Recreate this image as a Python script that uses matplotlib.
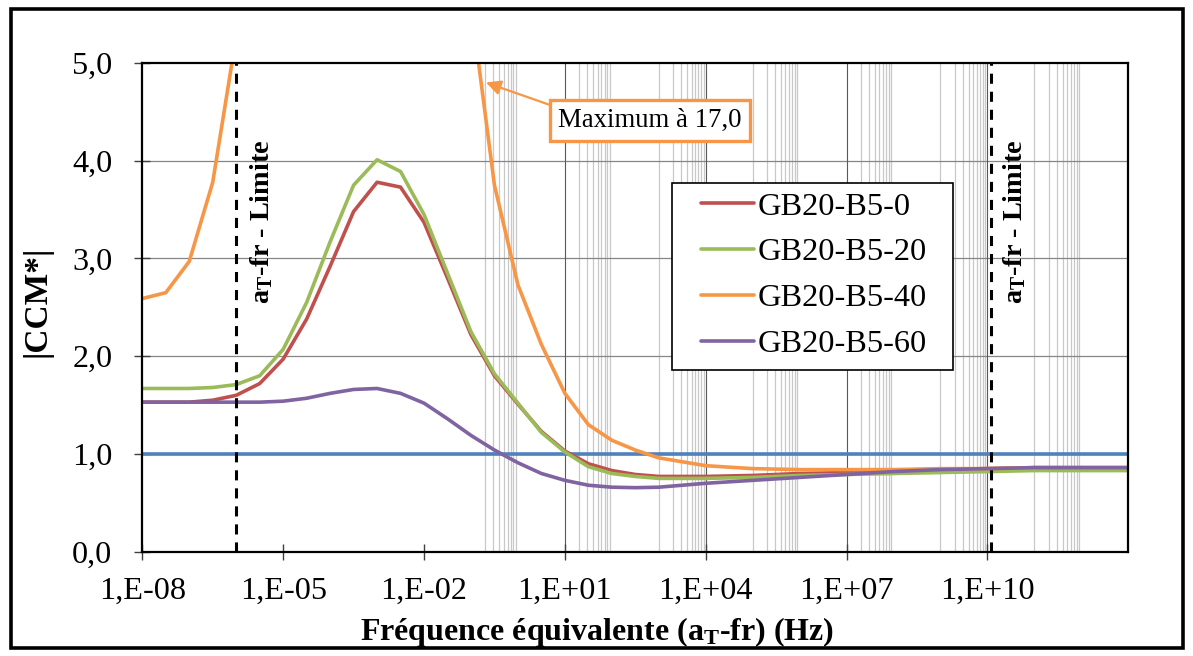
import numpy as np
import matplotlib
matplotlib.use("Agg")
import matplotlib.pyplot as plt
from matplotlib.patches import Rectangle

plt.rcParams["font.family"] = ["Liberation Serif", "DejaVu Serif"]
plt.rcParams["mathtext.fontset"] = "custom"
plt.rcParams["mathtext.rm"] = "Liberation Serif:bold"
plt.rcParams["mathtext.it"] = "Liberation Serif:bold:italic"
plt.rcParams["mathtext.bf"] = "Liberation Serif:bold"

# ---- data -------------------------------------------------------------
log_freq = [-8, -7.5, -7, -6.5, -6, -5.5, -5, -4.5, -4, -3.5, -3, -2.5, -2,
            -1.5, -1, -0.5, 0, 0.5, 1, 1.5, 2, 2.5, 3, 3.5, 4,
            5, 6, 7, 8, 9, 10, 11, 12, 13]

ccm_b5_0 = [1.53, 1.53, 1.53, 1.55, 1.60, 1.72, 1.97, 2.38, 2.92, 3.48, 3.78,
            3.73, 3.37, 2.80, 2.22, 1.80, 1.51, 1.23, 1.03, 0.90, 0.83, 0.79,
            0.77, 0.77, 0.77, 0.78, 0.80, 0.81, 0.83, 0.84, 0.85, 0.86, 0.86, 0.86]
ccm_b5_20 = [1.67, 1.67, 1.67, 1.68, 1.71, 1.80, 2.07, 2.55, 3.17, 3.75, 4.01,
             3.89, 3.45, 2.85, 2.25, 1.82, 1.52, 1.22, 1.02, 0.87, 0.80, 0.77,
             0.75, 0.75, 0.75, 0.76, 0.78, 0.79, 0.80, 0.81, 0.82, 0.83, 0.83, 0.83]
ccm_b5_40 = [2.59, 2.65, 2.97, 3.78, 5.27, 7.6, 10.1, 12.6, 14.9, 16.5, 17.0,
             15.9, 12.8, 9.0, 5.6, 3.75, 2.73, 2.12, 1.62, 1.30, 1.14, 1.04,
             0.96, 0.92, 0.88, 0.85, 0.84, 0.84, 0.84, 0.85, 0.85, 0.86, 0.86, 0.86]
ccm_b5_60 = [1.53, 1.53, 1.53, 1.53, 1.53, 1.53, 1.54, 1.57, 1.62, 1.66, 1.67,
             1.62, 1.52, 1.36, 1.19, 1.04, 0.91, 0.80, 0.73, 0.68, 0.66, 0.655,
             0.66, 0.68, 0.70, 0.73, 0.76, 0.79, 0.82, 0.84, 0.85, 0.86, 0.86, 0.86]

series_names = ["GB20-B5-0", "GB20-B5-20", "GB20-B5-40", "GB20-B5-60"]
series_colors = ["#C0504D", "#9BBB59", "#F79646", "#8064A2"]

reference_level = 1.0
limit_low = 1e-6
limit_high = 1.17e10
max_label = "Maximum à 17,0"

x_tick_exp = [-8, -5, -2, 1, 4, 7, 10]
x_tick_labels = ["1,E-08", "1,E-05", "1,E-02", "1,E+01", "1,E+04", "1,E+07", "1,E+10"]
y_ticks = [0, 1, 2, 3, 4, 5]
y_tick_labels = ["0,0", "1,0", "2,0", "3,0", "4,0", "5,0"]

# ---- figure ------------------------------------------------------------
W, H = 1193, 656
fig = plt.figure(figsize=(W / 100, H / 100), dpi=100)
fig.patch.set_facecolor("white")

def px_box(x0, y0, x1, y1):
    return [x0 / W, 1 - y1 / H, (x1 - x0) / W, (y1 - y0) / H]

ax = fig.add_axes(px_box(142.3, 63, 1128.3, 551.7))
ax.set_xscale("log")
ax.set_xlim(1e-8, 1e13)
ax.set_ylim(0, 5)

# grid: horizontal lines, major verticals, light minor verticals
for yv in y_ticks[1:-1]:
    ax.axhline(yv, color="#868686", lw=0.9, zorder=1)
for e in [1, 4, 7, 10]:
    ax.axvline(10.0 ** e, color="#595959", lw=0.8, zorder=1)
for e in [-1, 1, 3, 5, 7, 9, 11]:
    for k in range(1, 10):
        if k == 1 and e in (-1, 1, 7):
            continue
        ax.axvline(k * 10.0 ** e, color="#C8C8C8", lw=0.9, zorder=0.9)

freq = 10.0 ** np.array(log_freq)
all_series = [ccm_b5_0, ccm_b5_20, ccm_b5_40, ccm_b5_60]
handles = []
for vals, name, col in zip(all_series, series_names, series_colors):
    h, = ax.plot(freq, vals, color=col, lw=2.6, label=name, zorder=3,
                 solid_joinstyle="round", solid_capstyle="round")
    handles.append(h)

ax.axhline(reference_level, color="#4F81BD", lw=2.6, zorder=2.5)

for xv in (limit_low, limit_high):
    ax.axvline(xv, color="black", lw=2.2, ls=(0, (3.3, 2.6)), zorder=4)

for xt in (10 ** -5.45, 10 ** 10.588):
    ax.text(xt, 3.38, "a$_\\mathrm{T}$-fr - Limite", rotation=90,
            ha="center", va="center", fontsize=20.3, fontweight="bold", zorder=5)

ax.annotate(max_label, xy=(10 ** -0.68, 4.8), xytext=(10 ** 2.807, 4.414),
            ha="center", va="center", fontsize=19.3, zorder=6,
            bbox=dict(boxstyle="square,pad=0.3", fc="white", ec="#F79646", lw=2.4),
            arrowprops=dict(arrowstyle="-|>", color="#F79646", lw=1.6,
                            mutation_scale=22, relpos=(0, 1), shrinkA=0, shrinkB=0))

# axes styling
for s in ax.spines.values():
    s.set_linewidth(1.6)
    s.set_color("black")
    s.set_zorder(5)
ax.set_xticks([10.0 ** e for e in x_tick_exp])
ax.set_xticklabels(x_tick_labels)
ax.set_yticks(y_ticks)
ax.set_yticklabels(y_tick_labels)
ax.minorticks_off()
ax.tick_params(axis="both", direction="inout", length=12, width=1.0,
               labelsize=23.2, color="#404040")
ax.tick_params(axis="x", pad=12)
ax.tick_params(axis="y", pad=15.5)

# legend: text/handles from matplotlib, frame drawn as a plain box
leg_fs = 23.3
leg = ax.legend(handles=handles, loc="upper left",
                bbox_to_anchor=(700.7 / W, 1 - 192 / H),
                bbox_transform=fig.transFigure, fontsize=leg_fs, frameon=False,
                borderaxespad=0, borderpad=0, handlelength=1.65,
                handletextpad=0.12, labelspacing=0.5)
leg.set_zorder(8)
legend_box = Rectangle((671.7 / W, 1 - 370 / H), (953.3 - 671.7) / W, (370 - 182.7) / H,
                       transform=fig.transFigure, fc="white", ec="black", lw=1.2,
                       zorder=7)
ax.add_artist(legend_box)
legend_box.set_transform(fig.transFigure)
legend_box.set_clip_on(False)

fig.text(37 / W, 1 - 301 / H, "|CCM*|", rotation=90, ha="center", va="center",
         fontsize=24, fontweight="bold")
fig.text(597 / W, 1 - 632 / H, "Fréquence équivalente (a$_\\mathrm{T}$-fr) (Hz)",
         ha="center", va="center", fontsize=23, fontweight="bold")

# outer chart border
fig.patches.append(Rectangle((11 / W, 1 - 648 / H), (1183 - 11) / W, (648 - 9) / H,
                             transform=fig.transFigure, fill=False,
                             ec="black", lw=2.6))

fig.savefig("out.png", dpi=100)
